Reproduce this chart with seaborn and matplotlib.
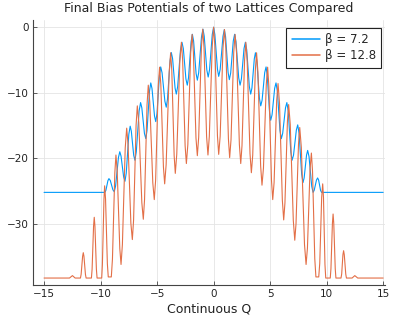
import numpy as np
import pandas as pd
import matplotlib
matplotlib.use("Agg")
import matplotlib.pyplot as plt
import seaborn as sns

# ---- data (peaks, troughs and shoulder points) ----
q_b72 = [-15.0, -9.62, -9.53, -9.35, -9.26, -9.14, -8.91, -8.79, -8.67, -8.42, -8.30,
         -8.19, -7.96, -7.84, -7.73, -7.50, -7.38, -7.28, -7.07, -6.96, -6.84, -6.59,
         -6.46, -6.35, -6.12, -6.00, -5.89, -5.67, -5.56, -5.45, -5.23, -5.12, -5.01,
         -4.79, -4.68, -4.56, -4.31, -4.19, -4.08, -3.85, -3.74, -3.63, -3.41, -3.30,
         -3.18, -2.93, -2.80, -2.68, -2.45, -2.33, -2.22, -1.99, -1.88, -1.77, -1.55,
         -1.44, -1.32, -1.07, -0.94, -0.83, -0.60, -0.48, -0.36, -0.12, 0.0, 0.11, 0.34,
         0.45, 0.58, 0.83, 0.95, 1.06, 1.28, 1.39, 1.51, 1.74, 1.86, 1.98, 2.22, 2.34,
         2.46, 2.69, 2.81, 2.93, 3.16, 3.28, 3.39, 3.60, 3.70, 3.82, 4.05, 4.17, 4.29,
         4.52, 4.64, 4.74, 4.95, 5.05, 5.17, 5.40, 5.52, 5.64, 5.87, 5.99, 6.11, 6.36,
         6.48, 6.60, 6.83, 6.94, 7.07, 7.32, 7.44, 7.56, 7.79, 7.91, 8.01, 8.22, 8.32,
         8.44, 8.68, 8.80, 8.90, 9.10, 9.20, 9.29, 9.46, 9.55, 15.0]
v_b72 = [-25.2, -25.2, -24.89, -23.41, -23.1, -23.39, -24.81, -25.1, -24.21, -19.89, -19.0,
         -19.66, -22.84, -23.5, -22.27, -16.33, -15.1, -15.86, -19.54, -20.3, -19.02, -12.78,
         -11.5, -12.30, -16.20, -17.0, -15.76, -9.74, -8.5, -9.36, -13.54, -14.4, -13.18,
         -7.28, -6.06, -6.96, -11.30, -12.2, -10.98, -5.09, -3.87, -4.79, -9.28, -10.2,
         -9.05, -3.45, -2.3, -3.25, -7.89, -8.84, -7.71, -2.21, -1.08, -2.10, -7.06,
         -8.08, -6.94, -1.44, -0.3, -1.37, -6.53, -7.6, -6.49, -1.11, 0.0, -1.10, -6.41,
         -7.5, -6.46, -1.39, -0.35, -1.47, -6.88, -8.0, -6.99, -2.09, -1.08, -2.21, -7.71, -8.84,
         -7.89, -3.25, -2.3, -3.45, -9.05, -10.2, -9.28, -4.82, -3.9, -5.08, -10.82, -12.0, -11.13,
         -6.93, -6.06, -7.25, -13.01, -14.2, -13.37, -9.33, -8.5, -9.74, -15.76, -17.0, -16.20, -12.30,
         -11.5, -12.78, -19.02, -20.3, -19.51, -15.69, -14.9, -16.18, -22.42, -23.7, -22.98, -19.52, -18.8,
         -19.73, -24.27, -25.2, -24.88, -23.32, -23.0, -23.32, -24.88, -25.2, -25.2]

q_b128 = [-15.0, -12.75, -12.49, -12.25, -11.78, -11.72, -11.59, -11.53, -11.47, -11.34,
          -11.28, -10.81, -10.75, -10.62, -10.56, -10.50, -10.37, -10.31, -9.90, -9.84,
          -9.70, -9.64, -9.56, -9.40, -9.32, -9.05, -8.95, -8.74, -8.64, -8.53, -8.30,
          -8.19, -8.07, -7.82, -7.69, -7.57, -7.32, -7.19, -7.08, -6.86, -6.75, -6.62,
          -6.35, -6.22, -6.11, -5.89, -5.78, -5.65, -5.38, -5.25, -5.13, -4.90, -4.78,
          -4.67, -4.44, -4.33, -4.20, -3.93, -3.80, -3.70, -3.49, -3.39, -3.26, -2.99,
          -2.85, -2.74, -2.52, -2.41, -2.28, -2.03, -1.90, -1.79, -1.56, -1.44, -1.32,
          -1.08, -0.96, -0.85, -0.62, -0.50, -0.38, -0.12, 0.0, 0.11, 0.34, 0.45, 0.58,
          0.83, 0.96, 1.08, 1.31, 1.42, 1.54, 1.78, 1.90, 2.03, 2.28, 2.40, 2.51, 2.74,
          2.85, 2.97, 3.22, 3.34, 3.46, 3.69, 3.80, 3.92, 4.16, 4.28, 4.41, 4.66, 4.78,
          4.89, 5.12, 5.23, 5.35, 5.58, 5.70, 5.83, 6.08, 6.20, 6.31, 6.53, 6.64, 6.78,
          7.05, 7.18, 7.29, 7.51, 7.62, 7.76, 8.04, 8.18, 8.30, 8.53, 8.65, 8.75, 8.95,
          9.05, 9.30, 9.39, 9.56, 9.65, 9.72, 9.85, 9.92, 10.32, 10.38, 10.51, 10.57,
          10.63, 10.76, 10.82, 11.27, 11.33, 11.44, 11.50, 11.56, 11.69, 11.75, 12.25,
          12.49, 12.75, 15.0]
v_b128 = [-38.27, -38.27, -37.9, -38.27, -38.27, -37.70, -34.97, -34.4, -34.97, -37.70,
          -38.27, -38.27, -36.92, -30.35, -29.0, -30.35, -36.92, -38.27, -38.27, -36.22,
          -26.25, -24.2, -26.23, -36.07, -38.1, -38.1, -35.38, -22.22, -19.5, -21.94, -33.76,
          -36.2, -33.16, -18.44, -15.4, -17.88, -29.92, -32.4, -29.42, -14.98, -12.0, -14.53,
          -26.77, -29.3, -26.31, -11.83, -8.84, -11.39, -23.75, -26.3, -23.35, -9.05, -6.1,
          -8.70, -21.30, -23.9, -20.98, -6.82, -3.9, -6.59, -19.61, -22.3, -19.38, -5.22,
          -2.3, -5.00, -18.10, -20.8, -17.92, -3.98, -1.1, -3.80, -16.90, -19.6, -16.78,
          -3.12, -0.3, -3.10, -16.70, -19.5, -16.65, -2.85, 0.0, -2.83, -16.57, -19.4, -16.62,
          -3.13, -0.35, -3.20, -17.05, -19.9, -17.16, -3.84, -1.1, -3.98, -17.92, -20.8, -18.10, -5.00,
          -2.3, -5.21, -19.29, -22.2, -19.53, -6.57, -3.9, -6.85, -21.15, -24.1, -21.47, -8.73, -6.1,
          -9.05, -23.35, -26.3, -23.72, -11.18, -8.6, -11.64, -26.36, -29.4, -26.83, -14.37, -11.8, -14.82,
          -29.48, -32.5, -29.99, -17.81, -15.3, -18.35, -33.15, -36.2, -33.72, -21.68, -19.2, -21.96, -35.34,
          -38.1, -38.1, -36.03, -25.97, -23.9, -26.00, -36.17, -38.27, -38.27, -36.84, -29.93, -28.5,
          -29.93, -36.84, -38.27, -38.27, -37.66, -34.71, -34.1, -34.71, -37.66, -38.27, -38.27,
          -37.9, -38.27, -38.27]

labels = ["β = 7.2", "β = 12.8"]
colors = ["#009AFA", "#E36F47"]
x_ticks = [-15, -10, -5, 0, 5, 10, 15]
y_ticks = [0, -10, -20, -30]

df = pd.concat([
    pd.DataFrame({"Q": q_b72, "V": v_b72, "series": labels[0]}),
    pd.DataFrame({"Q": q_b128, "V": v_b128, "series": labels[1]}),
], ignore_index=True)

sns.set_theme(style="white")
plt.rcParams["font.family"] = ["DejaVu Sans"]

fig = plt.figure(figsize=(4.0, 3.2), dpi=100)
ax = fig.add_axes([0.0833, 0.109, 0.878, 0.8285])

sns.lineplot(data=df, x="Q", y="V", hue="series", palette=colors,
             estimator=None, sort=False, linewidth=0.8, ax=ax)

ax.set_xlim(-15.95, 15.12)
ax.set_ylim(-39.35, 1.1)
ax.set_xticks(x_ticks)
ax.set_yticks(y_ticks)
ax.set_xticklabels([f"{t}".replace("-", "\u2212") for t in x_ticks], fontsize=7.5, color="#222222")
ax.set_yticklabels([f"{t}".replace("-", "\u2212") for t in y_ticks], fontsize=7.5, color="#222222")
ax.grid(True, color="#E4E4E4", linewidth=0.6)
ax.set_axisbelow(True)
for s in ["top", "right"]:
    ax.spines[s].set_visible(False)
for s in ["left", "bottom"]:
    ax.spines[s].set_color("#444444")
    ax.spines[s].set_linewidth(0.8)
ax.tick_params(direction="in", length=3, width=0.6, color="#444444", pad=3,
               bottom=True, left=True)
ax.set_xlabel("Continuous Q", fontsize=9, color="#222222", labelpad=2)
ax.set_ylabel("")
ax.set_title("Final Bias Potentials of two Lattices Compared", fontsize=9,
             color="#222222", pad=6)

leg = ax.legend(loc="upper right", bbox_to_anchor=(0.99, 0.97), fontsize=8.5,
                frameon=True, fancybox=False, framealpha=1, edgecolor="#222222",
                handlelength=2.4, handletextpad=0.4, borderpad=0.45, labelspacing=0.25,
                borderaxespad=0.0)
leg.get_frame().set_linewidth(0.8)
for line in leg.get_lines():
    line.set_linewidth(1.1)
leg.set_title(None)

fig.savefig("out.png", dpi=100)
